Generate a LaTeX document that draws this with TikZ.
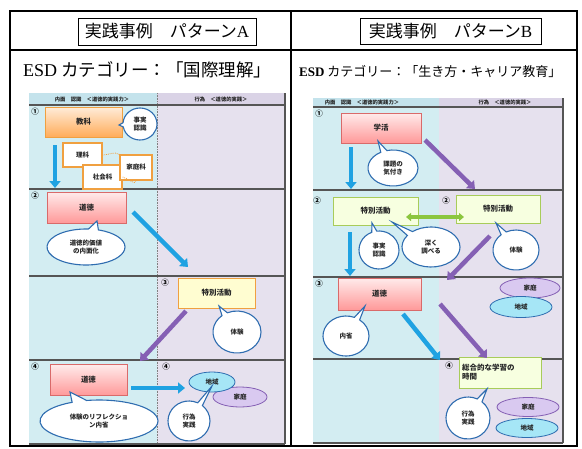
\documentclass[tikz,border=0pt]{standalone}
\usepackage{fontspec}
\setmainfont{Liberation Serif}
\newfontfamily\cjk{Noto Sans CJK JP}
\usetikzlibrary{arrows.meta,shapes.geometric,shapes.callouts}
\definecolor{colblue}{HTML}{D3EDF2}
\definecolor{collav}{HTML}{E6E1EE}
\definecolor{hdrblue}{HTML}{C4E3EC}
\definecolor{hdrlav}{HTML}{DAD3E6}
\definecolor{arrblue}{HTML}{1FA2E2}
\definecolor{arrpurp}{HTML}{8560B4}
\definecolor{arrgreen}{HTML}{8CC63F}
\definecolor{bubline}{HTML}{2F6DB0}
\definecolor{orgline}{HTML}{F0A040}
\definecolor{pinkline}{HTML}{D96A6A}
\definecolor{grnline}{HTML}{A8CC5A}
\definecolor{cyanfill}{HTML}{A6E6F6}
\definecolor{lavfill}{HTML}{D9C9F0}
\definecolor{rowline}{HTML}{555555}
\tikzset{
  lbl/.style={font=\cjk\bfseries\fontsize{7.5}{9}\selectfont, text=black!85},
  orgbox/.style={lbl, draw=orgline, line width=0.9pt, top color=orange!15, bottom color=orange!65, minimum width=#1, minimum height=30pt, inner sep=1pt},
  pinkbox/.style={lbl, draw=pinkline, line width=0.9pt, top color=red!8, bottom color=red!40, minimum width=#1, minimum height=31pt, inner sep=1pt},
  yelbox/.style={lbl, draw=orgline, line width=0.9pt, fill=yellow!18, minimum width=#1, minimum height=30pt, inner sep=1pt},
  grnbox/.style={lbl, draw=grnline, line width=0.9pt, fill=lime!12, minimum width=#1, minimum height=28pt, inner sep=1pt},
  subjbox/.style={lbl, font=\cjk\bfseries\fontsize{6.5}{7.5}\selectfont, draw=orgline, line width=1.3pt, fill=white, minimum height=24pt, inner sep=1pt},
  bubble/.style={lbl, font=\cjk\bfseries\fontsize{6.5}{8}\selectfont, ellipse callout, draw=bubline, line width=1.1pt, fill=white, inner sep=0pt, align=center},
  placeA/.style={lbl, font=\cjk\bfseries\fontsize{6.5}{7.5}\selectfont, ellipse, draw=bubline, line width=0.8pt, fill=cyanfill, inner sep=0pt},
  placeB/.style={lbl, font=\cjk\bfseries\fontsize{6.5}{7.5}\selectfont, ellipse, draw=arrpurp, line width=0.8pt, fill=lavfill, inner sep=0pt},
  fatblue/.style={draw=arrblue, line width=4.5pt, -{Triangle[length=7pt,width=11pt]}},
  fatpurp/.style={draw=arrpurp, line width=4.5pt, -{Triangle[length=7pt,width=11pt]}},
  fatgreen/.style={draw=arrgreen, line width=3.5pt, {Triangle[length=5pt,width=8pt]}-{Triangle[length=5pt,width=8pt]}},
  num/.style={font=\cjk\bfseries\fontsize{7.5}{8}\selectfont, inner sep=0pt},
  hdr/.style={font=\cjk\bfseries\fontsize{5.3}{6}\selectfont, inner sep=0pt, text=black!85},
  frame/.style={line width=2.6pt, draw=black}
}
\begin{document}
\begin{tikzpicture}[x=1pt,y=-1pt]
\useasboundingbox (0,0) rectangle (582,448);
\fill[white] (0,0) rectangle (582,448);

% ===== outer frame =====
\draw[frame] (10,11) rectangle (577,446);
\draw[frame] (10,50) -- (577,50);
\draw[frame] (291,11) -- (291,446);

% titles
\node[draw=black, line width=0.8pt, minimum width=178pt, minimum height=27pt, inner sep=0pt] (tA) at (167,31.5) {};
\node[font=\cjk\fontsize{17}{19}\selectfont] at (tA.center) {実践事例　パターン{\rmfamily A}};
\node[draw=black, line width=0.8pt, minimum width=181pt, minimum height=26pt, inner sep=0pt] (tB) at (450.5,31) {};
\node[font=\cjk\fontsize{17}{19}\selectfont] at (tB.center) {実践事例　パターン{\rmfamily B}};

\node[anchor=west, inner sep=0pt] (esdA) at (23,70) {{\fontsize{18}{20}\selectfont ESD}{\cjk\fontsize{17.5}{19}\selectfont\ カテゴリー：「国際理解」}};
\node[anchor=west, inner sep=0pt] (esdB) at (299,72) {{\bfseries\fontsize{13}{15}\selectfont ESD}{\cjk\fontsize{13}{15}\selectfont\ カテゴリー：「生き方・キャリア教育」}};

% ===== LEFT PANEL background =====
\fill[hdrblue] (29,93) rectangle (157,105);
\fill[hdrlav] (157,93) rectangle (285,105);
\fill[colblue] (29,105) rectangle (157,444);
\fill[collav] (157,105) rectangle (285,444);
\node[hdr] (hA1) at (92,99) {内面　認識　＜道徳的実践力＞};
\node[hdr] (hA2) at (221,99) {行為　＜道徳的実践＞};
\draw[gray, densely dotted, line width=0.6pt] (157,93) -- (157,444);
\foreach \yy in {105,189,276,360,444} \draw[rowline, line width=1.2pt] (29,\yy) -- (285,\yy);
\draw[rowline, line width=1.2pt] (285,93) -- (285,444);

% ===== RIGHT PANEL background =====
\fill[hdrblue] (313,98) rectangle (439,107);
\fill[hdrlav] (439,98) rectangle (563,107);
\fill[colblue] (313,107) rectangle (439,443);
\fill[collav] (439,107) rectangle (563,443);
\node[hdr] (hB1) at (362,102.5) {内面　認識　＜道徳的実践力＞};
\node[hdr] (hB2) at (505,102.5) {行為　＜道徳的実践＞};
\foreach \yy in {107,190,277,359,443} \draw[rowline, line width=1.2pt] (313,\yy) -- (563,\yy);
\draw[rowline, line width=1.2pt] (563,98) -- (563,443);

% ===== row numbers =====
\node[num] (nA1) at (35,112) {①};
\node[num] (nA2) at (35,196) {②};
\node[num] (nA3) at (165,283) {③};
\node[num] (nA4) at (35,367) {④};
\node[num] (nA5) at (166,367) {④};
\node[num] (nB1) at (319,114) {①};
\node[num] (nB2) at (317,201) {②};
\node[num] (nB3) at (446,201) {②};
\node[num] (nB4) at (319,284) {③};
\node[num] (nB5) at (449,366) {④};

% ===== LEFT PANEL content =====
\node[orgbox=77pt] (kyoka) at (83.5,122) {教科};
\node[subjbox, minimum width=39pt] (rika) at (82.5,155) {理科};
\node[subjbox, minimum width=39pt] (shakai) at (102.5,177) {社会科};
\node[subjbox, minimum width=32pt, minimum height=25pt] (katei) at (136,167.5) {家庭科};
\draw[orgline, densely dotted, line width=0.8pt] (rika.east) to[out=0, in=150] (katei.north west);
\draw[orgline, densely dotted, line width=0.8pt] (shakai.east) to[out=-10, in=-100] (katei.south);
\node[bubble, minimum width=34pt, minimum height=32pt, callout absolute pointer={(119,125)}] (bA1) at (140,124) {事実\\認識};

\node[pinkbox=79pt] (dotokuA) at (86.5,207.5) {道徳};
\node[bubble, minimum width=78pt, minimum height=36pt, callout absolute pointer={(97,221)}] (bA2) at (86,247) {道徳的価値\\の内面化};

\node[yelbox=77pt] (tokkatsuA) at (216.5,293) {特別活動};
\node[bubble, minimum width=48pt, minimum height=42pt, callout absolute pointer={(219,306)}] (bA3) at (237,332) {体験};

\node[pinkbox=77pt] (dotokuA2) at (88.5,380) {道徳};
\node[bubble, minimum width=118pt, minimum height=42pt, callout absolute pointer={(70,392)}] (bA4) at (99,421) {体験のリフレクショ\\ン内省};

\node[placeB, minimum width=54pt, minimum height=20pt] (kateiA) at (240,397) {家庭};
\node[placeA, minimum width=46pt, minimum height=20pt] (chiikiA) at (212,382) {地域};
\node[bubble, minimum width=42pt, minimum height=40pt, callout absolute pointer={(212,386)}] (bA5) at (189,421) {行為\\実践};

% arrows left
\coordinate (a1s) at (55,145); \coordinate (a1e) at (55,188);
\draw[fatblue] (a1s) -- (a1e);
\coordinate (a2s) at (133,212); \coordinate (a2e) at (188,267);
\draw[fatblue] (a2s) -- (a2e);
\coordinate (a3s) at (186,311); \coordinate (a3e) at (140,361);
\draw[fatpurp] (a3s) -- (a3e);
\coordinate (a4s) at (131,388); \coordinate (a4e) at (185,388);
\draw[fatblue] (a4s) -- (a4e);

% ===== RIGHT PANEL content =====
\node[pinkbox=80pt, minimum height=30pt] (gakkatsu) at (381,128) {学活};
\node[bubble, minimum width=50pt, minimum height=36pt, callout absolute pointer={(378,141)}] (bB1) at (393,168) {課題の\\気付き};

\node[grnbox=85pt] (tokkatsuB1) at (375.5,211) {特別活動};
\node[grnbox=84pt] (tokkatsuB2) at (498,209) {特別活動};
\coordinate (g1) at (406,217); \coordinate (g2) at (464,217);
\draw[fatgreen] (g1) -- (g2);
\node[bubble, minimum width=40pt, minimum height=38pt, callout absolute pointer={(372,223)}] (bB2) at (379,250) {事実\\認識};
\node[bubble, minimum width=58pt, minimum height=40pt, callout absolute pointer={(392,222)}] (bB3) at (431,247) {深く\\調べる};
\node[bubble, minimum width=46pt, minimum height=40pt, callout absolute pointer={(496,223)}] (bB4) at (516,250) {体験};

\node[pinkbox=83pt, minimum height=32pt] (dotokuB) at (379.5,294) {道徳};
\node[placeB, minimum width=60pt, minimum height=20pt] (kateiB1) at (530,288) {家庭};
\node[placeA, minimum width=62pt, minimum height=21pt] (chiikiB1) at (521,307) {地域};
\node[bubble, minimum width=46pt, minimum height=40pt, callout absolute pointer={(365,306)}] (bB5) at (346,336) {内省};

\node[grnbox=82pt, minimum height=31pt, align=left, text width=76pt] (sogo) at (500,372.5) {総合的な学習の\\時間};
\node[bubble, minimum width=44pt, minimum height=42pt, callout absolute pointer={(487,389)}] (bB6) at (468,418) {行為\\実践};
\node[placeB, minimum width=62pt, minimum height=19pt] (kateiB2) at (528,407) {家庭};
\node[placeA, minimum width=62pt, minimum height=19pt] (chiikiB2) at (527,428) {地域};

% arrows right
\coordinate (b1s) at (351,147); \coordinate (b1e) at (351,189);
\draw[fatblue] (b1s) -- (b1e);
\coordinate (b2s) at (425,140); \coordinate (b2e) at (475,189);
\draw[fatpurp] (b2s) -- (b2e);
\coordinate (b3s) at (350,232); \coordinate (b3e) at (350,276);
\draw[fatblue] (b3s) -- (b3e);
\coordinate (b4s) at (490,236); \coordinate (b4e) at (447,280);
\draw[fatpurp] (b4s) -- (b4e);
\coordinate (b5s) at (403,314); \coordinate (b5e) at (440,360);
\draw[fatblue] (b5s) -- (b5e);
\coordinate (b6s) at (440,304); \coordinate (b6e) at (487,358);
\draw[fatpurp] (b6s) -- (b6e);
\end{tikzpicture}
\end{document}
